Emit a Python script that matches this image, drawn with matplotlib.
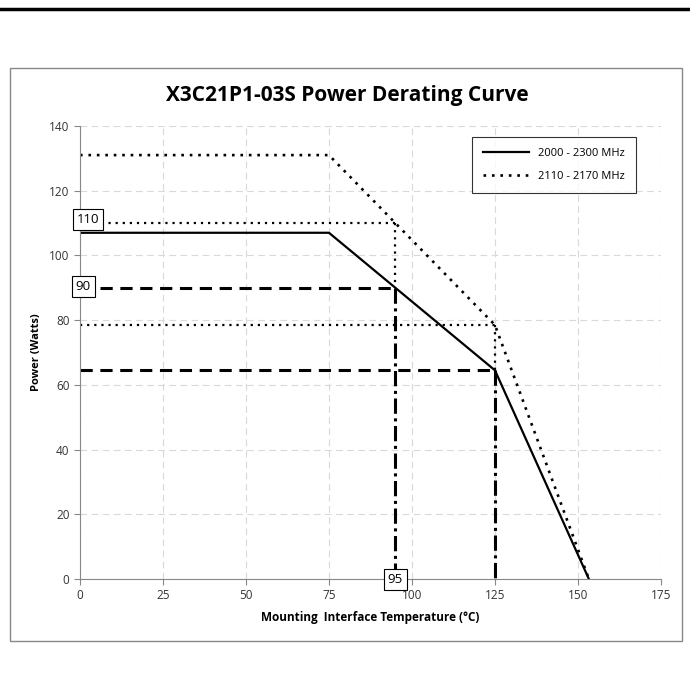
import matplotlib.pyplot as plt
from matplotlib.patches import Rectangle
from matplotlib.lines import Line2D

# derating curves
temp = [0, 75, 95, 125, 153.3]
power_wide = [107, 107, 90, 64.5, 0]      # 2000 - 2300 MHz
power_narrow = [131, 131, 110, 78.5, 0]   # 2110 - 2170 MHz

# reference markers
mark_temps = [95, 125]
mark_wide = [90, 64.5]
mark_narrow = [110, 78.5]

xticks = [0, 25, 50, 75, 100, 125, 150, 175]
yticks = [0, 20, 40, 60, 80, 100, 120, 140]

plt.rcParams['font.family'] = ['Open Sans', 'DejaVu Sans']

fig = plt.figure(figsize=(6.9, 6.96), dpi=100)
ax = fig.add_axes([0.1159, 0.168, 0.842, 0.651])

# outer chart frame and top rule
fig.patches.append(Rectangle((0.0145, 0.079), 0.9735, 0.823, transform=fig.transFigure,
                             fill=False, edgecolor='#888888', linewidth=1.0))
fig.lines.append(Line2D([0, 1], [0.987, 0.987], transform=fig.transFigure,
                        color='black', linewidth=2.5))

ax.plot(temp, power_wide, color='black', linewidth=1.6, label='2000 - 2300 MHz')
ax.plot(temp, power_narrow, color='black', linewidth=1.9, linestyle=(0, (1, 2.2)),
        label='2110 - 2170 MHz')

for t, pw, pn in zip(mark_temps, mark_wide, mark_narrow):
    # horizontal dotted guide to narrow-band curve
    ax.plot([0, t], [pn, pn], color='black', linewidth=1.6, linestyle=(0, (1, 2.2)))
    # vertical dotted from narrow curve down to wide curve
    ax.plot([t, t], [pn, pw], color='black', linewidth=1.6, linestyle=(0, (1, 2.2)))
    # dashed horizontal to wide curve
    x0 = 6 if t == 95 else 0
    ax.plot([x0, t], [pw, pw], color='black', linewidth=2.2, linestyle=(0, (4, 2.5)))
    # dash-dot vertical down to axis
    ax.plot([t, t], [pw, 0], color='black', linewidth=2.2, linestyle=(0, (5, 1.5, 1, 1.5)))

box = dict(boxstyle='square,pad=0.3', facecolor='white', edgecolor='black', linewidth=0.8)
ax.text(2.4, 111, '110', ha='center', va='center', fontsize=9.5, bbox=box, zorder=5)
ax.text(1.0, 90.5, '90', ha='center', va='center', fontsize=9.5, bbox=box, zorder=5)
ax.text(95, 0, '95', ha='center', va='center', fontsize=9.5, bbox=box, zorder=5, clip_on=False)

ax.set_xlim(0, 175)
ax.set_ylim(0, 140)
ax.set_xticks(xticks)
ax.set_yticks(yticks)
ax.grid(True, color='#d9d9d9', linestyle=(0, (6, 4)), linewidth=0.8)
ax.set_axisbelow(True)
for s in ['top', 'right']:
    ax.spines[s].set_visible(False)
for s in ['left', 'bottom']:
    ax.spines[s].set_color('#888888')
ax.tick_params(length=4, color='#888888', labelsize=8.5, labelcolor='#333333')

ax.set_xlabel('Mounting  Interface Temperature (\u00b0C)', fontsize=8.5, fontweight='bold', labelpad=6)
ax.set_ylabel('Power (Watts)', fontsize=8, fontweight='bold', labelpad=5)

fig.text(0.504, 0.863, 'X3C21P1-03S Power Derating Curve', ha='center', va='center',
         fontsize=15, fontweight='bold')

leg = ax.legend(loc='upper right', bbox_to_anchor=(0.967, 0.989), fontsize=8,
                frameon=True, fancybox=False, edgecolor='black', handlelength=4.2,
                borderpad=1.0, labelspacing=1.1)
leg.get_frame().set_linewidth(0.8)

fig.savefig('out.png', dpi=100)
